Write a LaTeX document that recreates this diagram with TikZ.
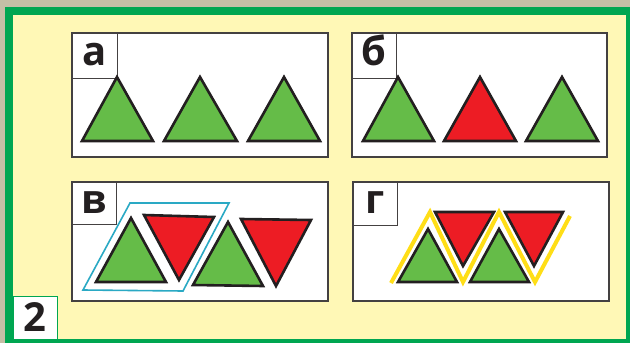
\documentclass[tikz,border=0pt]{standalone}
\usepackage{fontspec}
\setmainfont{Open Sans}
\definecolor{texbg}{HTML}{C4BFA6}
\definecolor{frgreen}{HTML}{00A651}
\definecolor{paper}{HTML}{FFF8B6}
\definecolor{tgreen}{HTML}{65BC48}
\definecolor{tred}{HTML}{ED1C24}
\definecolor{ink}{HTML}{231F20}
\definecolor{cyanl}{HTML}{2AA9C4}
\definecolor{yell}{HTML}{FFDE17}
\begin{document}
\begin{tikzpicture}[x=1pt,y=-1pt,
  panel/.style={draw=ink!85,line width=1.2pt,fill=white},
  lbox/.style={draw=ink!85,line width=1pt,fill=white},
  lbl/.style={font=\fontsize{40}{40}\selectfont\bfseries,text=ink,inner sep=0pt,anchor=base},
  tg/.style={fill=tgreen,draw=ink,line width=2.6pt,line join=miter},
  tr/.style={fill=tred,draw=ink,line width=2.6pt,line join=miter}]
\useasboundingbox (0,0) rectangle (630,343);
\fill[texbg] (0,0) rectangle (630,343);
\fill[frgreen] (5,7) rectangle (630,343);
\fill[paper] (13,15) rectangle (626,339);
% number box
\draw[fill=white,draw=frgreen,line width=1pt] (13,296) rectangle (57,339);
\node[lbl] (n2) at (35,331) {2};
% panel a
\draw[panel] (72,33) rectangle (328,157);
\draw[lbox] (72,33) rectangle (117,78);
\node[lbl] (la) at (94.5,65) {а};
\draw[tg] (117,77) -- (153,141) -- (82,141) -- cycle;
\draw[tg] (200,77) -- (237,141) -- (164,141) -- cycle;
\draw[tg] (284,77) -- (320,141) -- (248,141) -- cycle;
% panel b
\draw[panel] (352,33) rectangle (607,157);
\draw[lbox] (352,33) rectangle (396,78);
\node[lbl] (lb) at (374,65) {б};
\draw[tg] (398,77) -- (434,141) -- (363,141) -- cycle;
\draw[tr] (480,77) -- (516,141) -- (444,141) -- cycle;
\draw[tg] (562,77) -- (598,141) -- (526,141) -- cycle;
% panel v
\draw[panel] (72,182) rectangle (328,301);
\draw[lbox] (72,182) rectangle (116,224);
\node[lbl] (lv) at (94,213) {в};
\draw[cyanl,line width=1.6pt,line join=miter] (130,203) -- (229,203) -- (183,291) -- (83,290) -- cycle;
\draw[tg] (131,218) -- (166,282) -- (96,282) -- cycle;
\draw[tr] (144,215) -- (214,217) -- (179,280) -- cycle;
\draw[tg] (228,222) -- (263,286) -- (193,285) -- cycle;
\draw[tr] (241,219) -- (311,220) -- (276,286) -- cycle;
% panel g
\draw[panel] (353,182) rectangle (609,301);
\draw[lbox] (353,182) rectangle (397,225);
\node[lbl] (lg) at (375,213) {г};
\draw[yell,line width=4pt,line join=miter] (391,283) -- (430,212) -- (463,282) -- (499,212) -- (535,282) -- (570,216);
\draw[tg] (428,229) -- (457,282) -- (398,282) -- cycle;
\draw[tr] (435,212) -- (494,212) -- (463,266) -- cycle;
\draw[tg] (499,229) -- (529,282) -- (470,282) -- cycle;
\draw[tr] (505,212) -- (563,212) -- (534,266) -- cycle;
\end{tikzpicture}
\end{document}
